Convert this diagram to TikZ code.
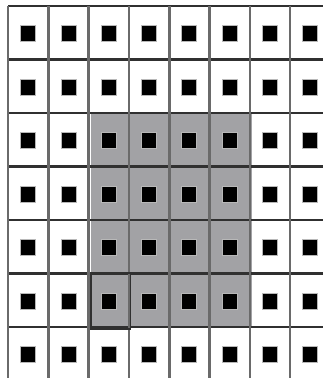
\documentclass[tikz,border=0pt]{standalone}
\definecolor{cellgray}{HTML}{A2A2A5}
\definecolor{gridline}{HTML}{6A6A6A}
\definecolor{darkline}{HTML}{303030}
\definecolor{halo}{HTML}{B8B8B8}
\tikzset{
  pix/.style={x=1pt,y=-1pt},
  vline/.style={draw=gridline,line width=2.6pt},
  hline/.style={draw=darkline,line width=2.4pt},
  dot/.style={fill=black,draw=halo,line width=0.9pt}
}
\begin{document}
\begin{tikzpicture}[pix]
\useasboundingbox (0,0) rectangle (323,378);
\fill[white] (0,0) rectangle (323,378);
% shaded block
\fill[cellgray] (90.6,113) rectangle (251.8,327);
% horizontal lines
\foreach \j in {0,...,6} {
  \draw[hline] (8,{6+53.5*\j}) -- (323,{6+53.5*\j});
}
% vertical lines
\foreach \i in {0,...,7} {
  \draw[vline] ({8+40.3*\i},6) -- ({8+40.3*\i},378);
}
% outlined cell
\draw[draw=darkline,line width=1.4pt] (91,273) rectangle (130.5,329);
% black squares
\foreach \i in {0,...,7} {
  \foreach \j in {0,...,6} {
    \filldraw[dot] ({28.2+40.3*\i-7.5},{33.5+53.5*\j-8}) rectangle ++(15,16);
  }
}
\end{tikzpicture}
\end{document}
